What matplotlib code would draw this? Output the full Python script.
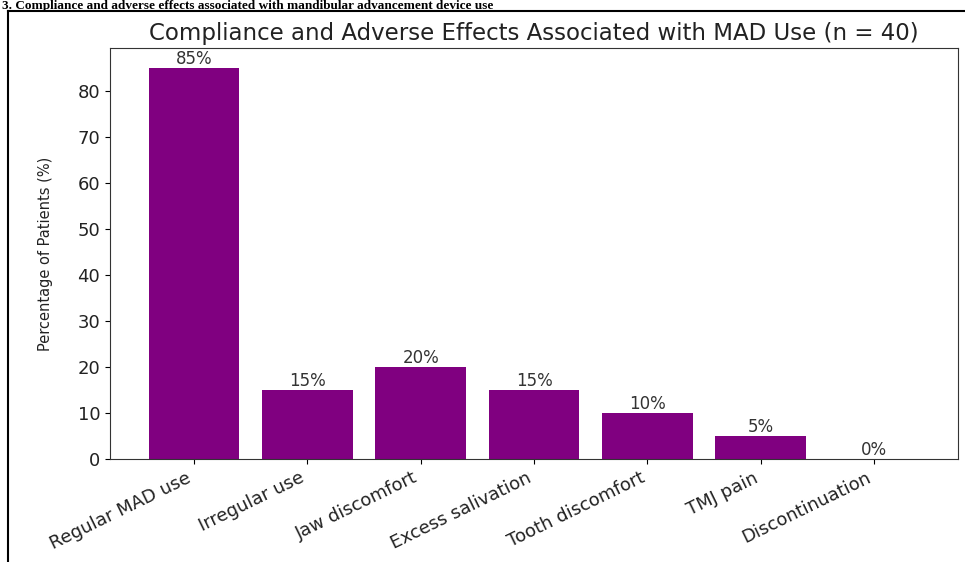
import matplotlib
matplotlib.use("Agg")
import matplotlib.pyplot as plt
from matplotlib.lines import Line2D

categories = ["Regular MAD use", "Irregular use", "Jaw discomfort", "Excess salivation",
              "Tooth discomfort", "TMJ pain", "Discontinuation"]
percentages = [85, 15, 20, 15, 10, 5, 0]
yticks = [0, 10, 20, 30, 40, 50, 60, 70, 80]

W, H = 965, 562
fig = plt.figure(figsize=(W / 100, H / 100), dpi=100)
ax = fig.add_axes([110 / W, 1 - 459 / H, (958 - 110) / W, (459 - 48) / H])

x = list(range(len(categories)))
bars = ax.bar(x, percentages, color="purple", width=0.8)
for xi, v in zip(x, percentages):
    ax.text(xi, v, f"{v}%", ha="center", va="bottom", fontsize=12, color="#333333")

ax.set_xticks(x)
ax.set_xticklabels(categories, rotation=26, ha="right", fontsize=13, color="#222222")
ax.set_yticks(yticks)
ax.set_yticklabels([str(t) for t in yticks], fontsize=13, color="#222222")
ax.set_ylabel("Percentage of Patients (%)", fontsize=10.5, labelpad=18, color="#222222")
ax.set_title("Compliance and Adverse Effects Associated with MAD Use (n = 40)",
             fontsize=16.5, pad=6, color="#222222")
for s in ax.spines.values():
    s.set_color("#333333")

# page-frame lines of the source document
fig.add_artist(Line2D([8 / W, 8 / W], [0, 1 - 11 / H], color="black", lw=1.5))
fig.add_artist(Line2D([8 / W, 1], [1 - 11 / H, 1 - 11 / H], color="black", lw=1.5))
fig.text(0.002, 1 - 9.5 / H, "3. Compliance and adverse effects associated with mandibular advancement device use",
         ha="left", va="baseline", fontsize=9.5, fontweight="bold", family="Liberation Serif")

fig.savefig("out.png", dpi=100)
